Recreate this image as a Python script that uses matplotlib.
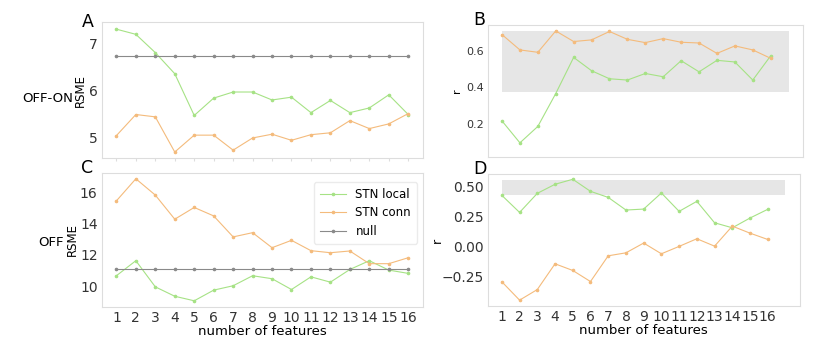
import matplotlib.pyplot as plt
import numpy as np

# number of features
features = np.arange(1, 17)

# OFF-ON RSME (panel A)
a_local = [7.30, 7.19, 6.80, 6.35, 5.46, 5.83, 5.96, 5.96, 5.79, 5.85, 5.52, 5.78, 5.52, 5.62, 5.90, 5.48]
a_conn = [5.03, 5.48, 5.43, 4.68, 5.04, 5.04, 4.72, 4.98, 5.06, 4.93, 5.05, 5.09, 5.35, 5.18, 5.28, 5.50]
a_null = 6.73

# OFF-ON r (panel B)
b_local = [0.215, 0.095, 0.185, 0.365, 0.563, 0.490, 0.446, 0.439, 0.475, 0.457, 0.545, 0.484, 0.547, 0.538, 0.439, 0.572]
b_conn = [0.688, 0.604, 0.591, 0.708, 0.650, 0.659, 0.705, 0.662, 0.644, 0.666, 0.646, 0.642, 0.585, 0.626, 0.604, 0.558]
b_band = (0.371, 0.706)

# OFF RSME (panel C)
c_local = [10.66, 11.62, 9.95, 9.35, 9.06, 9.74, 10.02, 10.66, 10.47, 9.78, 10.59, 10.25, 11.06, 11.62, 11.02, 10.81]
c_conn = [15.44, 16.85, 15.81, 14.27, 15.02, 14.48, 13.14, 13.41, 12.45, 12.92, 12.26, 12.13, 12.24, 11.43, 11.43, 11.81]
c_null = 11.11

# OFF r (panel D)
d_local = [0.427, 0.284, 0.444, 0.520, 0.562, 0.461, 0.410, 0.304, 0.312, 0.447, 0.293, 0.377, 0.197, 0.155, 0.237, 0.310]
d_conn = [-0.298, -0.452, -0.363, -0.147, -0.203, -0.296, -0.080, -0.055, 0.027, -0.063, -0.001, 0.063, 0.001, 0.169, 0.110, 0.057]
d_band = (0.427, 0.556)

green = "#a6e285"
orange = "#f4bb7c"
grey = "#8a8a8a"
spine_col = "#dddddd"

fig = plt.figure(figsize=(8.21, 3.46), dpi=100)
axA = fig.add_axes([0.124, 0.543, 0.391, 0.393])
axC = fig.add_axes([0.124, 0.113, 0.391, 0.387])
axB = fig.add_axes([0.594, 0.546, 0.384, 0.382])
axD = fig.add_axes([0.594, 0.116, 0.380, 0.381])

line_kw = dict(marker="o", markersize=1.6, linewidth=0.8)


def style(ax, size):
    for s in ax.spines.values():
        s.set_color(spine_col)
        s.set_linewidth(0.8)
    ax.tick_params(axis="both", length=0, labelsize=size, colors="#333333", pad=3)
    ax.tick_params(axis="x", length=2, color=spine_col)


# panel A
axA.plot(features, a_local, color=green, **line_kw)
axA.plot(features, a_conn, color=orange, **line_kw)
axA.plot(features, [a_null] * len(features), color=grey, **line_kw)
axA.set_ylim(4.55, 7.45)
axA.set_yticks([5, 6, 7])
axA.set_xticks(features)
axA.set_xticklabels([])
axA.set_ylabel("RSME", fontsize=8.5, labelpad=1)
style(axA, 10)

# panel C
axC.plot(features, c_local, color=green, label="STN local", **line_kw)
axC.plot(features, c_conn, color=orange, label="STN conn", **line_kw)
axC.plot(features, [c_null] * len(features), color=grey, label="null", **line_kw)
axC.set_ylim(8.67, 17.22)
axC.set_yticks([10, 12, 14, 16])
axC.set_xticks(features)
axC.set_xlabel("number of features", fontsize=9.5, labelpad=0)
axC.set_ylabel("RSME", fontsize=8.5, labelpad=1)
style(axC, 10)
axC.tick_params(axis="x", length=0, pad=3)
leg = axC.legend(loc="upper right", fontsize=8.5, frameon=True, handlelength=2.2,
                 borderpad=0.5, labelspacing=0.45, handletextpad=0.8,
                 bbox_to_anchor=(1.0, 0.975))
leg.get_frame().set_edgecolor("#e6e6e6")

# panel B
band_x = np.arange(1, 18)
axB.fill_between(band_x, b_band[0], b_band[1], color="#e6e6e6", linewidth=0)
axB.plot(features, b_local, color=green, **line_kw)
axB.plot(features, b_conn, color=orange, **line_kw)
axB.set_ylim(0.017, 0.741)
axB.set_yticks([0.2, 0.4, 0.6])
axB.set_xticks(features)
axB.set_xticklabels([])
axB.set_ylabel("r", fontsize=8)
axB.yaxis.set_label_coords(-0.083, 0.5)
style(axB, 8)
axB.tick_params(axis="x", length=0)

# panel D
axD.fill_between(band_x, d_band[0], d_band[1], color="#e6e6e6", linewidth=0)
axD.plot(features, d_local, color=green, **line_kw)
axD.plot(features, d_conn, color=orange, **line_kw)
axD.set_ylim(-0.5, 0.606)
axD.set_yticks([-0.25, 0.0, 0.25, 0.5])
axD.set_xticks(features)
axD.set_xlabel("number of features", fontsize=9.5, labelpad=0)
axD.set_ylabel("r", fontsize=9)
axD.yaxis.set_label_coords(-0.14, 0.5)
style(axD, 10)
axD.tick_params(axis="x", length=0, pad=3)

# panel letters and row labels
fig.text(82 / 821, 1 - 27 / 346, "A", fontsize=12.5)
fig.text(81 / 821, 1 - 173 / 346, "C", fontsize=12.5)
fig.text(473 / 821, 1 - 25 / 346, "B", fontsize=12.5)
fig.text(473 / 821, 1 - 174 / 346, "D", fontsize=12.5)
fig.text(22 / 821, 1 - 98 / 346, "OFF-ON", fontsize=9.5, va="center")
fig.text(38 / 821, 1 - 242 / 346, "OFF", fontsize=9.5, va="center")

fig.savefig("out.png", dpi=100)
